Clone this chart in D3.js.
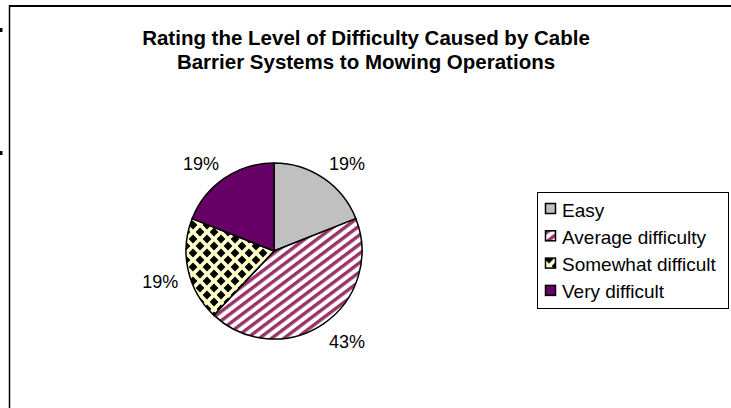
<!DOCTYPE html>
<html><head><meta charset="utf-8">
<script src="https://cdn.jsdelivr.net/npm/d3@7"></script>
<style>html,body{margin:0;padding:0;background:#fff;}svg{display:block;font-family:"Liberation Sans",Arial,sans-serif;}</style>
</head><body>
<script>
const titleLines = ["Rating the Level of Difficulty Caused by Cable", "Barrier Systems to Mowing Operations"];
const categories = ["Easy", "Average difficulty", "Somewhat difficult", "Very difficult"];
const values = [19, 43, 19, 19];
const fills = ["#C0C0C0", "url(#stripes)", "url(#checker)", "#660066"];

const W = 731, H = 408;
const svg = d3.select("body").append("svg").attr("width", W).attr("height", H);
const defs = svg.append("defs");

const st = defs.append("pattern").attr("id", "stripes").attr("patternUnits", "userSpaceOnUse")
  .attr("width", 7.4).attr("height", 7.4).attr("patternTransform", "rotate(-37)");
st.append("rect").attr("width", 7.4).attr("height", 7.4).attr("fill", "#fff");
st.append("rect").attr("y", 0).attr("width", 7.4).attr("height", 3.4).attr("fill", "#993366");

const P = 14;
const ck = defs.append("pattern").attr("id", "checker").attr("patternUnits", "userSpaceOnUse")
  .attr("width", P).attr("height", P).attr("x", 3).attr("y", 2);
ck.append("rect").attr("width", P).attr("height", P).attr("fill", "#FFFFCC");
const dh = 4.4;
[[0,0],[P,0],[0,P],[P,P],[P/2,P/2]].forEach(([x,y]) => {
  ck.append("path").attr("d", `M${x},${y-dh}L${x+dh},${y}L${x},${y+dh}L${x-dh},${y}Z`).attr("fill", "#000");
});

// frame
svg.append("line").attr("x1", 9).attr("x2", W).attr("y1", 6).attr("y2", 6).attr("stroke", "#000").attr("stroke-width", 2);
svg.append("line").attr("x1", 9.5).attr("x2", 9.5).attr("y1", 5).attr("y2", H).attr("stroke", "#000").attr("stroke-width", 1.5);
svg.append("rect").attr("x", 0).attr("y", 28).attr("width", 2.5).attr("height", 4).attr("fill", "#000");
svg.append("rect").attr("x", 0).attr("y", 151).attr("width", 2.5).attr("height", 4).attr("fill", "#000");

// title
svg.append("text").attr("x", 366).attr("text-anchor", "middle").attr("font-weight", "bold").attr("font-size", 20.5)
  .selectAll("tspan").data(titleLines).join("tspan")
  .attr("x", 366).attr("y", (d, i) => 45 + i * 24).text(d => d);

// pie
const cx = 274, cy = 251, r = 88;
const g = svg.append("g").attr("transform", `translate(${cx},${cy})`);
const pie = d3.pie().sort(null).value(d => d)(values);
const arc = d3.arc().innerRadius(0).outerRadius(r);
g.selectAll("path.slice").data(pie).join("path").attr("class", "slice")
  .attr("d", arc).attr("fill", (d, i) => fills[i]).attr("stroke", "#000").attr("stroke-width", 1.5);

const total = d3.sum(values);
g.selectAll("text.lbl").data(pie).join("text").attr("class", "lbl")
  .attr("font-size", 18)
  .each(function(d) {
    const a = (d.startAngle + d.endAngle) / 2;
    const px = Math.sin(a) * (r + 10), py = -Math.cos(a) * (r + 10);
    d3.select(this).attr("x", px).attr("y", py > 0 ? py + 16 : py)
      .attr("text-anchor", px >= 0 ? "start" : "end")
      .text(Math.round(d.data / total * 100) + "%");
  });

// legend
const lg = svg.append("g");
lg.append("rect").attr("x", 537.5).attr("y", 192.5).attr("width", 191).attr("height", 116)
  .attr("fill", "#fff").attr("stroke", "#000").attr("stroke-width", 1);
const rows = lg.selectAll("g.row").data(categories).join("g").attr("class", "row")
  .attr("transform", (d, i) => `translate(0,${216.5 + i * 27.3})`);
rows.append("rect").attr("x", 545.5).attr("y", -13).attr("width", 10).attr("height", 10)
  .attr("fill", (d, i) => fills[i]).attr("stroke", "#000").attr("stroke-width", 1.5);
rows.append("text").attr("x", 562).attr("y", 0).attr("font-size", 19).text(d => d);
</script>
</body></html>
